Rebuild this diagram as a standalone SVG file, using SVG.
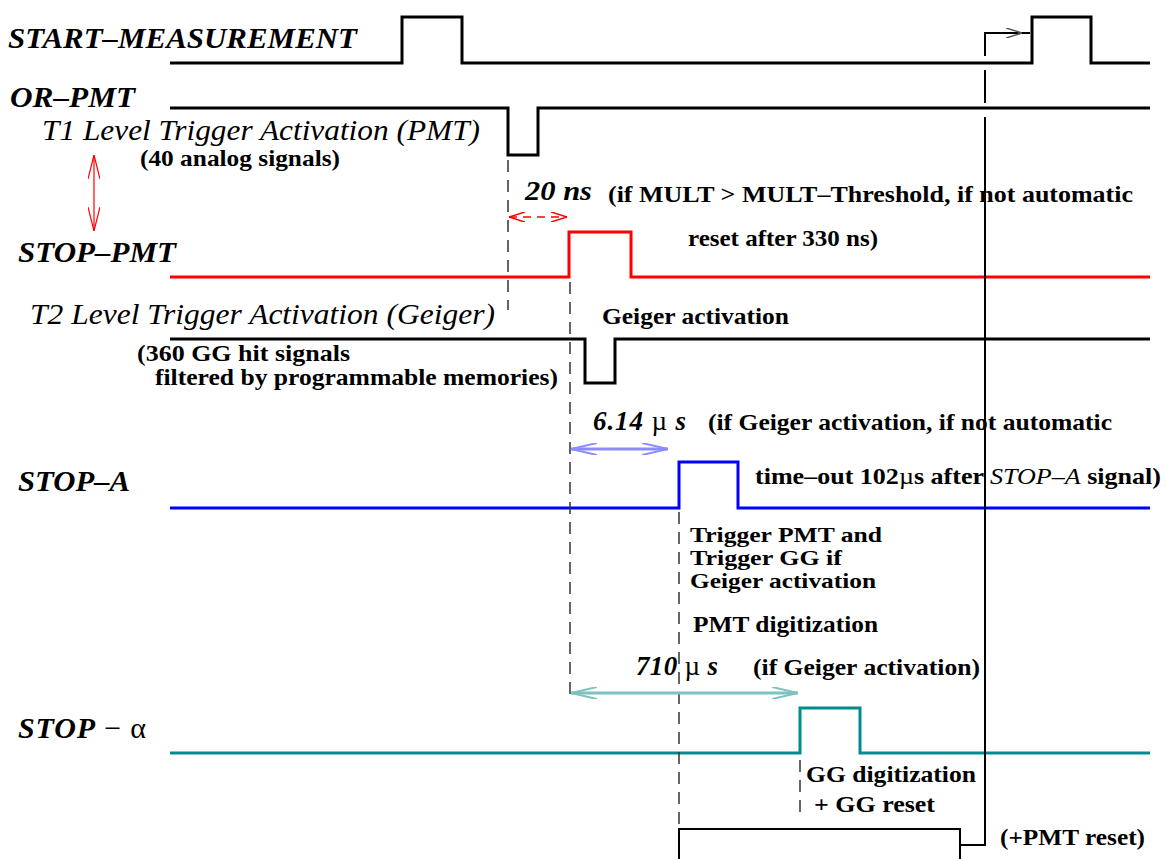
<svg xmlns="http://www.w3.org/2000/svg" width="1166" height="859" viewBox="0 0 1166 859">
<style>
.lbl{font-family:"Liberation Serif","Times New Roman",serif;font-style:italic;font-weight:bold;font-size:30px;fill:#000}
.it{font-family:"Liberation Serif","Times New Roman",serif;font-style:italic;font-size:30px;fill:#000}
.b{font-family:"Liberation Serif","Times New Roman",serif;font-weight:bold;font-size:24px;fill:#000}
.bs{font-family:"Liberation Serif","Times New Roman",serif;font-weight:bold;font-size:21px;fill:#000}
.dur{font-family:"Liberation Serif","Times New Roman",serif;font-style:italic;font-weight:bold;font-size:27px;fill:#000}
.up{font-style:normal;font-weight:normal}
.sig{fill:none;stroke-width:3;stroke-linejoin:miter}
.dash{fill:none;stroke:#333;stroke-width:1.5;stroke-dasharray:12 8}
</style>
<defs>
<marker id="ahRed" viewBox="0 0 24 12" refX="24" refY="6" markerWidth="24" markerHeight="12" markerUnits="userSpaceOnUse" orient="auto-start-reverse"><path d="M0 0 L24 6 L0 12" fill="none" stroke="#ff0000" stroke-width="1.2"/></marker>
<marker id="ahRed2" viewBox="0 0 16 10" refX="16" refY="5" markerWidth="16" markerHeight="10" markerUnits="userSpaceOnUse" orient="auto-start-reverse"><path d="M0 0 L16 5 L0 10" fill="none" stroke="#ff0000" stroke-width="1.5"/></marker>
<marker id="ahBlue" viewBox="0 0 26 12" refX="26" refY="6" markerWidth="26" markerHeight="12" markerUnits="userSpaceOnUse" orient="auto-start-reverse"><path d="M0 0 L26 6 L0 12" fill="none" stroke="#8c8cff" stroke-width="2"/></marker>
<marker id="ahTeal" viewBox="0 0 26 12" refX="26" refY="6" markerWidth="26" markerHeight="12" markerUnits="userSpaceOnUse" orient="auto-start-reverse"><path d="M0 0 L26 6 L0 12" fill="none" stroke="#7fc0c0" stroke-width="2"/></marker>
<marker id="ahBlk" viewBox="0 0 16 10" refX="16" refY="5" markerWidth="16" markerHeight="10" markerUnits="userSpaceOnUse" orient="auto"><path d="M0 0 L16 5 L0 10" fill="none" stroke="#555" stroke-width="1.5"/></marker>
</defs>

<g id="start-measurement">
<text class="lbl" x="8" y="48" textLength="349" lengthAdjust="spacingAndGlyphs">START–MEASUREMENT</text>
<path class="sig" stroke="#000" d="M170 63 H402 V17 H462 V63 H1032 V17 H1091 V63 H1150"/>
</g>

<g id="or-pmt">
<text class="lbl" x="10" y="107" textLength="125" lengthAdjust="spacingAndGlyphs">OR–PMT</text>
<path class="sig" stroke="#000" d="M170 108 H508 V155 H538 V108 H1150"/>
<text class="it" x="42" y="140" textLength="438" lengthAdjust="spacingAndGlyphs">T1 Level Trigger Activation (PMT)</text>
<text class="b" x="140" y="166" textLength="200" lengthAdjust="spacingAndGlyphs">(40 analog signals)</text>
</g>

<g id="stop-pmt">
<text class="lbl" x="18" y="262" textLength="158" lengthAdjust="spacingAndGlyphs">STOP–PMT</text>
<path class="sig" stroke="#ff0000" d="M170 277 H569 V232 H631 V277 H1150"/>
<text class="dur" x="525" y="200" textLength="67" lengthAdjust="spacingAndGlyphs">20 ns</text>
<text class="b" x="608" y="202" textLength="525" lengthAdjust="spacingAndGlyphs">(if MULT &gt; MULT–Threshold, if not automatic</text>
<text class="b" x="688" y="246" textLength="190" lengthAdjust="spacingAndGlyphs">reset after 330 ns)</text>
</g>

<g id="t2-geiger">
<text class="it" x="30" y="324" textLength="465" lengthAdjust="spacingAndGlyphs">T2 Level Trigger Activation (Geiger)</text>
<text class="b" x="602" y="324" textLength="187" lengthAdjust="spacingAndGlyphs">Geiger activation</text>
<path class="sig" stroke="#000" d="M170 339 H585 V383 H615 V339 H1150"/>
<text class="b" x="137" y="361" textLength="213" lengthAdjust="spacingAndGlyphs">(360 GG hit signals</text>
<text class="b" x="155" y="385" textLength="403" lengthAdjust="spacingAndGlyphs">filtered by programmable memories)</text>
</g>

<g id="stop-a">
<text class="lbl" x="18" y="491" textLength="112" lengthAdjust="spacingAndGlyphs">STOP–A</text>
<path class="sig" stroke="#0000ff" d="M170 508 H679 V462 H738 V508 H1150"/>
<text class="dur" x="593" y="430" font-weight="normal" textLength="93" lengthAdjust="spacing">6.14 <tspan class="up">µ</tspan> s</text>
<text class="b" x="708" y="430" textLength="404" lengthAdjust="spacingAndGlyphs">(if Geiger activation, if not automatic</text>
<text class="b" x="755" y="484" textLength="406" lengthAdjust="spacingAndGlyphs">time–out 102<tspan font-weight="normal">µ</tspan>s after <tspan font-style="italic" font-weight="normal">STOP–A</tspan> signal)</text>
<text class="bs" x="690" y="542" textLength="192" lengthAdjust="spacingAndGlyphs">Trigger PMT and</text>
<text class="bs" x="690" y="565" textLength="152" lengthAdjust="spacingAndGlyphs">Trigger GG if</text>
<text class="bs" x="690" y="588" textLength="186" lengthAdjust="spacingAndGlyphs">Geiger activation</text>
<text class="b" x="693" y="632" textLength="185" lengthAdjust="spacingAndGlyphs">PMT digitization</text>
</g>

<g id="stop-alpha">
<text class="lbl" x="18" y="738" textLength="128" lengthAdjust="spacing">STOP<tspan class="up"> − α</tspan></text>
<path class="sig" stroke="#008c8c" d="M170 753 H800 V708 H860 V753 H1150"/>
<text class="dur" x="636" y="675" font-weight="normal" textLength="82" lengthAdjust="spacing">710 <tspan class="up">µ</tspan> s</text>
<text class="b" x="753" y="675" textLength="227" lengthAdjust="spacingAndGlyphs">(if Geiger activation)</text>
<text class="b" x="806" y="782" textLength="170" lengthAdjust="spacingAndGlyphs">GG digitization</text>
<text class="b" x="814" y="812" textLength="121" lengthAdjust="spacingAndGlyphs">+ GG reset</text>
</g>

<g id="reset">
<path fill="none" stroke="#000" stroke-width="2" d="M679 859 V829 H960 V859"/>
<text class="b" x="1000" y="845" textLength="145" lengthAdjust="spacingAndGlyphs">(+PMT reset)</text>
</g>

<g id="connectors">
<path fill="none" stroke="#000" stroke-width="2" d="M960 845 H985 V117"/>
<path fill="none" stroke="#000" stroke-width="2" d="M985 103 V70"/>
<path fill="none" stroke="#000" stroke-width="2" d="M985 56 V33 H1030"/>
<path fill="none" stroke="#000" stroke-width="1" d="M1000 33 H1022" marker-end="url(#ahBlk)"/>
<line x1="94" y1="155" x2="94" y2="231" stroke="#ff0000" stroke-width="1.2" marker-start="url(#ahRed)" marker-end="url(#ahRed)"/>
<line class="dash" x1="508" y1="160" x2="508" y2="310" stroke="#000"/>
<line x1="509" y1="217" x2="567" y2="217" stroke="#ff0000" stroke-width="1.5" stroke-dasharray="8 6" marker-start="url(#ahRed2)" marker-end="url(#ahRed2)"/>
<line class="dash" x1="570" y1="282" x2="570" y2="700"/>
<line x1="571" y1="449" x2="668" y2="449" stroke="#8c8cff" stroke-width="3" marker-start="url(#ahBlue)" marker-end="url(#ahBlue)"/>
<line class="dash" x1="679" y1="512" x2="679" y2="828"/>
<line x1="571" y1="693" x2="798" y2="693" stroke="#7fc0c0" stroke-width="3" marker-start="url(#ahTeal)" marker-end="url(#ahTeal)"/>
<line class="dash" x1="800" y1="760" x2="800" y2="815"/>
</g>
</svg>
